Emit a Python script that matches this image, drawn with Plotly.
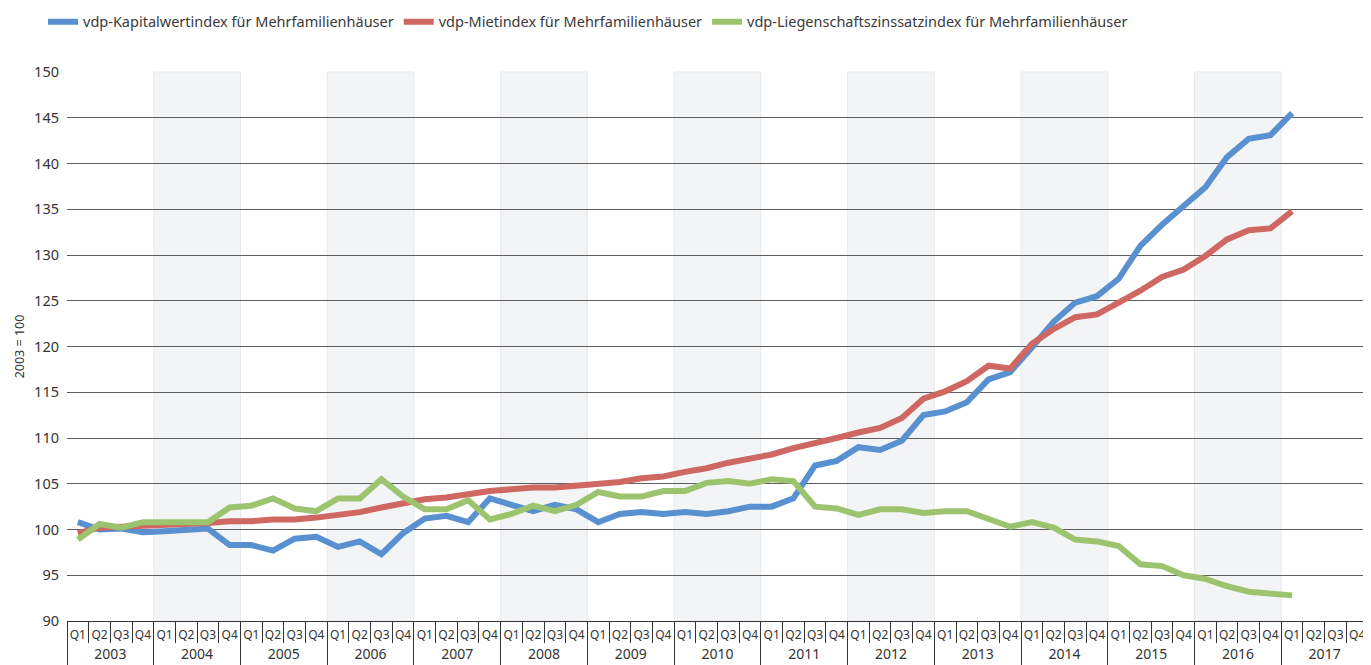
import plotly.graph_objects as go

years = [str(y) for y in range(2003, 2018)]
quarters = ["Q1", "Q2", "Q3", "Q4"]

kapitalwert = [100.8, 100.0, 100.1, 99.7, 99.8, 100.0, 100.1, 98.3, 98.3, 97.7,
               99.0, 99.2, 98.1, 98.7, 97.3, 99.6, 101.2, 101.5, 100.8, 103.4,
               102.7, 102.0, 102.7, 102.2, 100.8, 101.7, 101.9, 101.7, 101.9, 101.7,
               102.0, 102.5, 102.5, 103.4, 107.0, 107.5, 109.0, 108.7, 109.7, 112.5,
               112.9, 113.9, 116.4, 117.2, 119.9, 122.7, 124.8, 125.5, 127.4, 131.0,
               133.3, 135.3, 137.4, 140.7, 142.7, 143.1, 145.5]
miet = [99.6, 100.2, 100.3, 100.4, 100.5, 100.5, 100.7, 100.9, 100.9, 101.1,
        101.1, 101.3, 101.6, 101.9, 102.4, 102.8, 103.3, 103.5, 103.9, 104.2,
        104.4, 104.6, 104.6, 104.8, 105.0, 105.2, 105.6, 105.8, 106.3, 106.7,
        107.3, 107.7, 108.2, 108.9, 109.4, 110.0, 110.6, 111.1, 112.2, 114.3,
        115.1, 116.2, 117.9, 117.6, 120.3, 121.9, 123.2, 123.5, 124.8, 126.1,
        127.6, 128.4, 129.9, 131.7, 132.7, 132.9, 134.8]
liegenschaftszins = [98.9, 100.6, 100.2, 100.8, 100.8, 100.8, 100.8, 102.4, 102.6, 103.4,
                     102.3, 102.0, 103.4, 103.4, 105.5, 103.6, 102.2, 102.2, 103.2, 101.1,
                     101.7, 102.6, 102.0, 102.7, 104.1, 103.6, 103.6, 104.2, 104.2, 105.1,
                     105.3, 105.0, 105.5, 105.3, 102.5, 102.3, 101.6, 102.2, 102.2, 101.8,
                     102.0, 102.0, 101.2, 100.3, 100.8, 100.2, 98.9, 98.7, 98.2, 96.2,
                     96.0, 95.0, 94.6, 93.8, 93.2, 93.0, 92.8]

names = ["vdp-Kapitalwertindex für Mehrfamilienhäuser",
         "vdp-Mietindex für Mehrfamilienhäuser",
         "vdp-Liegenschaftszinssatzindex für Mehrfamilienhäuser"]
colors = ["#5990CF", "#CF6762", "#9CC46F"]

periods = [f"{y} {q}" for y in years for q in quarters]
q_text = [q for y in years for q in quarters]
n = len(kapitalwert)
nq = len(periods)

year_bounds = [4 * k - 0.5 for k in range(len(years) + 1)]
year_centers = [4 * k + 1.5 for k in range(len(years))]
xr = [-0.5, nq - 0.5]

fig = go.Figure()
# full category set (invisible) so every quarter through 2017 Q4 shows on the axis
fig.add_trace(go.Scatter(x=periods, y=[None] * nq, mode="lines",
                         showlegend=False, hoverinfo="skip"))
# empty helper traces so the overlay axes (year dividers / year labels) are drawn
fig.add_trace(go.Scatter(x=year_bounds, y=[None] * len(year_bounds), xaxis="x2",
                         mode="lines", showlegend=False, hoverinfo="skip"))
fig.add_trace(go.Scatter(x=year_centers, y=[None] * len(year_centers), xaxis="x3",
                         mode="lines", showlegend=False, hoverinfo="skip"))
for name, vals, col in zip(names, [kapitalwert, miet, liegenschaftszins], colors):
    fig.add_trace(go.Scatter(x=periods[:n], y=vals, mode="lines", name=name,
                             line=dict(color=col, width=6)))

# shaded bands for alternate years
shapes = []
for k, y in enumerate(years):
    if k % 2 == 1:
        shapes.append(dict(type="rect", xref="x2", yref="paper",
                           x0=4 * k - 0.5, x1=4 * k + 3.5, y0=0, y1=1,
                           fillcolor="#F3F4F6", line=dict(color="#E7E9EC", width=1),
                           layer="below"))

# the page body adds an 8px offset, so the figure is sized 8px smaller
fig.update_layout(
    width=1363, height=657, autosize=False,
    margin=dict(l=59, r=3, t=64, b=44, autoexpand=False),
    paper_bgcolor="white", plot_bgcolor="white",
    font=dict(family="Noto Sans", color="#333333"),
    shapes=shapes,
    legend=dict(orientation="h", xref="container", yref="container",
                x=0.0257, y=0.979, xanchor="left", yanchor="middle",
                font=dict(size=14.5, color="#3a3a3a")),
    # quarter labels with separators between them
    xaxis=dict(type="category", categoryorder="array", categoryarray=periods,
               range=xr, automargin=False,
               tickmode="array", tickvals=periods, ticktext=q_text,
               showgrid=False, showline=True, linecolor="#333333", linewidth=1,
               ticks="outside", ticklen=21, tickcolor="#333333", tickson="boundaries",
               ticklabelstandoff=3, tickangle=0,
               tickfont=dict(size=12, color="#333333")),
    # year dividers
    xaxis2=dict(type="linear", overlaying="x", anchor="y", side="bottom", range=xr,
                automargin=False, tickmode="array", tickvals=year_bounds,
                showticklabels=False, ticks="outside", ticklen=48,
                tickcolor="#333333", tickwidth=1,
                showgrid=False, showline=False, zeroline=False),
    # year labels
    xaxis3=dict(type="linear", overlaying="x", anchor="y", side="bottom", range=xr,
                automargin=False, tickmode="array", tickvals=year_centers, ticktext=years,
                ticks="", ticklabelstandoff=23, tickangle=0,
                tickfont=dict(size=14, color="#333333"),
                showgrid=False, showline=False, zeroline=False),
    yaxis=dict(range=[90, 150], dtick=5, showgrid=True, gridcolor="#5e5e5e", gridwidth=1.2,
               zeroline=False, showline=False, ticks="", automargin=False,
               ticklabelstandoff=7,
               tickfont=dict(size=14.5, color="#333333"),
               title=dict(text="2003 = 100", font=dict(size=12.5, color="#333333"), standoff=6)),
)

fig.write_html("out.html")
